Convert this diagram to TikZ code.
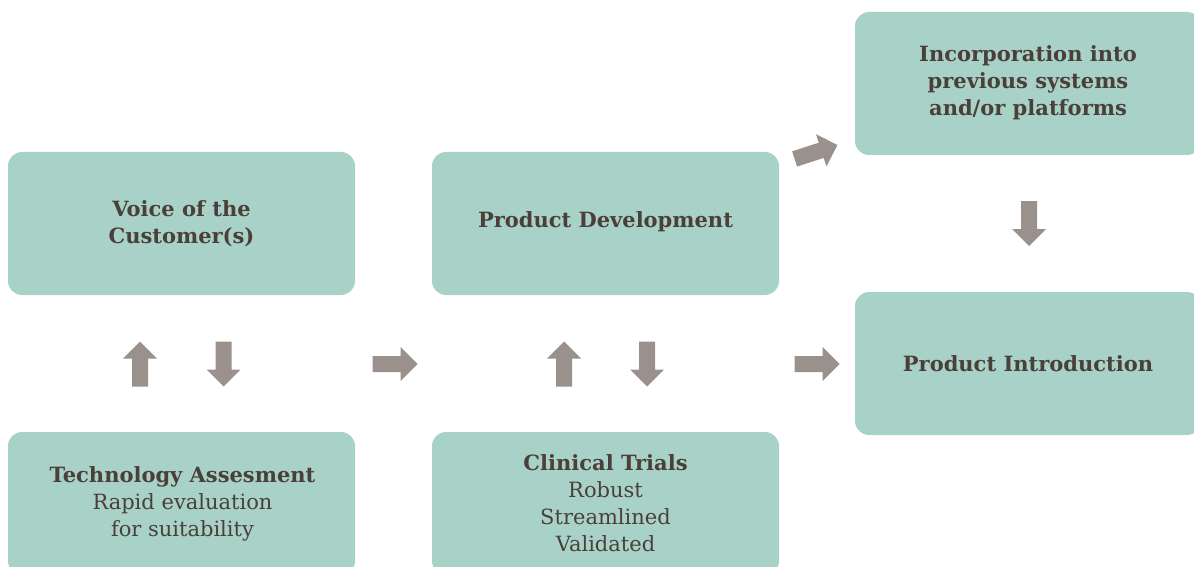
\documentclass[tikz,border=0pt]{standalone}
\usepackage{fontspec}
\setmainfont{DejaVu Serif}
\definecolor{boxfill}{HTML}{A8D2C8}
\definecolor{txt}{HTML}{4B3F39}
\definecolor{arr}{HTML}{9B918C}
\tikzset{
  stagebox/.style={fill=boxfill, rounded corners=14pt, draw=none},
  lbl/.style={text=txt, align=center, font=\fontsize{21}{27}\selectfont, inner sep=0pt},
  blockarrow/.pic={\fill[arr] (-22.5,-8) -- (5.5,-8) -- (5.5,-17) -- (22.5,0) -- (5.5,17) -- (5.5,8) -- (-22.5,8) -- cycle;},
}
\begin{document}
\begin{tikzpicture}[x=1pt,y=-1pt]
\useasboundingbox (0,0) rectangle (1194,567);
% boxes
\fill[stagebox] (8,152) rectangle (355,295);
\fill[stagebox] (8,432) rectangle (355,575);
\fill[stagebox] (432,152) rectangle (779,295);
\fill[stagebox] (432,432) rectangle (779,575);
\fill[stagebox] (855,12) rectangle (1201,155);
\fill[stagebox] (855,292) rectangle (1201,435);
% labels
\node[lbl] (voc) at (181.5,223.5) {\bfseries Voice of the\\\bfseries Customer(s)};
\node[lbl] (tech) at (182.5,503.5) {\bfseries Technology Assesment\\Rapid evaluation\\for suitability};
\node[lbl] (pd) at (605.5,221.5) {\bfseries Product Development};
\node[lbl] (ct) at (605.5,503) {\bfseries Clinical Trials\\Robust\\Streamlined\\Validated};
\node[lbl] (inc) at (1028,83) {\bfseries Incorporation into\\\bfseries previous systems\\\bfseries and/or platforms};
\node[lbl] (pi) at (1028,363.5) {\bfseries Product Introduction};
% arrows
\pic[rotate=90] (up1) at (140,364) {blockarrow};
\pic[rotate=-90] (dn1) at (223.5,364) {blockarrow};
\pic (r1) at (395,364) {blockarrow};
\pic[rotate=90] (up2) at (564,364) {blockarrow};
\pic[rotate=-90] (dn2) at (647,364) {blockarrow};
\pic (r2) at (817,364) {blockarrow};
\pic[rotate=18] (diag) at (816,152) {blockarrow};
\pic[rotate=-90] (dn3) at (1029,223.5) {blockarrow};
\end{tikzpicture}
\end{document}
